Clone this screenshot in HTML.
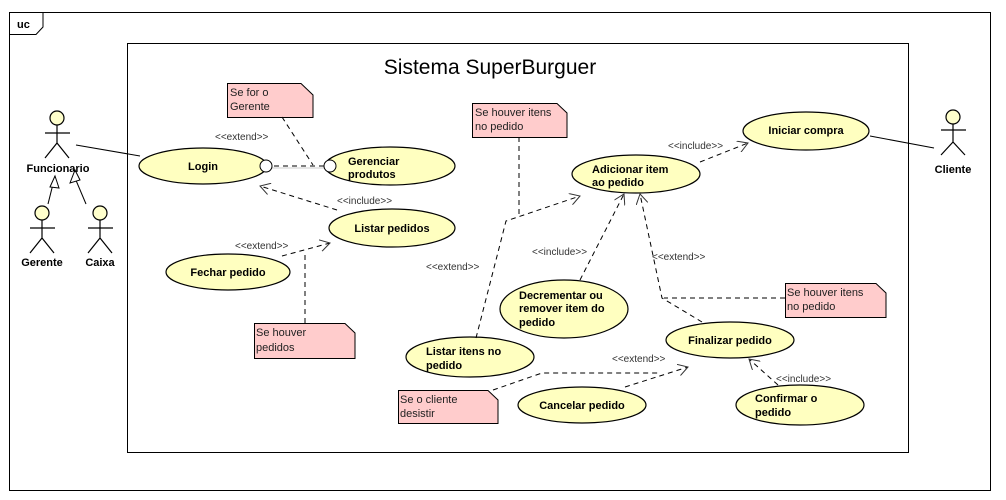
<!DOCTYPE html><html><head><style>body{margin:0;background:#fff}svg{display:block}text{font-family:"Liberation Sans",sans-serif}</style></head><body>
<svg width="1006" height="500" xmlns="http://www.w3.org/2000/svg">
<defs><marker id="a" markerWidth="12" markerHeight="12" refX="10" refY="6" orient="auto" markerUnits="userSpaceOnUse"><path d="M0,0 L10,6 L0,12" fill="none" stroke="#333" stroke-width="1"/></marker></defs>
<rect x="9.5" y="12.5" width="981" height="478" fill="#fff" stroke="#000"/>
<path d="M9.5,34.5 H36 L43,27 V12.5" fill="none" stroke="#000"/>
<text x="17" y="28" font-size="11" font-weight="bold">uc</text>
<rect x="127.5" y="43.5" width="781" height="409" fill="#fff" stroke="#000"/>
<text x="490" y="74" font-size="21" text-anchor="middle">Sistema SuperBurguer</text>
<g stroke="#000" fill="none">
<line x1="76" y1="145" x2="140" y2="156"/>
<line x1="870" y1="136" x2="934" y2="148"/>
<line x1="48" y1="204" x2="55" y2="176"/><line x1="86" y1="204" x2="75" y2="178"/>
</g>
<path d="M50,187 L55,176 L59,188 Z M70,183 L75,170 L80,180 Z" fill="#fff" stroke="#000"/>
<g fill="#ffffcc" stroke="#000" stroke-width="1.2">
<g id="act"></g>
<circle cx="57" cy="118" r="7"/><circle cx="42" cy="213" r="7"/><circle cx="100" cy="213" r="7"/><circle cx="953" cy="117" r="7"/>
</g>
<g stroke="#000" fill="none" stroke-width="1.2">
<path d="M57,125V143M45,133H70M45,158L57,143L69,158"/>
<path d="M42,220V238M30,228H55M30,253L42,238L54,253"/>
<path d="M100,220V238M88,228H113M88,253L100,238L112,253"/>
<path d="M953,124V142M941,130H966M941,155L953,142L965,155"/>
</g>
<g font-size="11" font-weight="bold" text-anchor="middle">
<text x="58" y="172">Funcionario</text><text x="42" y="266">Gerente</text><text x="100" y="266">Caixa</text><text x="953" y="173">Cliente</text>
</g>
<g fill="#ffffc0" stroke="#000" stroke-width="1.2">
<ellipse cx="203" cy="166" rx="64" ry="18"/>
<ellipse cx="390" cy="166" rx="65" ry="19"/>
<ellipse cx="392" cy="228" rx="63" ry="19"/>
<ellipse cx="228" cy="272" rx="62" ry="18"/>
<ellipse cx="806" cy="131" rx="63" ry="19"/>
<ellipse cx="636" cy="174" rx="64" ry="19"/>
<ellipse cx="564" cy="309" rx="64" ry="29"/>
<ellipse cx="470" cy="357" rx="64" ry="20"/>
<ellipse cx="730" cy="340" rx="64" ry="18"/>
<ellipse cx="582" cy="405" rx="64" ry="18"/>
<ellipse cx="800" cy="405" rx="64" ry="20"/>
</g>
<g font-size="11" font-weight="bold">
<text x="203" y="170" text-anchor="middle">Login</text>
<text x="348" y="165">Gerenciar</text><text x="348" y="178">produtos</text>
<text x="392" y="232" text-anchor="middle">Listar pedidos</text>
<text x="228" y="276" text-anchor="middle">Fechar pedido</text>
<text x="806" y="134" text-anchor="middle">Iniciar compra</text>
<text x="592" y="173">Adicionar item</text><text x="592" y="186">ao pedido</text>
<text x="519" y="299">Decrementar ou</text><text x="519" y="312">remover item do</text><text x="519" y="326">pedido</text>
<text x="426" y="355">Listar itens no</text><text x="426" y="369">pedido</text>
<text x="730" y="344" text-anchor="middle">Finalizar pedido</text>
<text x="582" y="409" text-anchor="middle">Cancelar pedido</text>
<text x="755" y="402">Confirmar o</text><text x="755" y="416">pedido</text>
</g>
<g fill="#ffcccc" stroke="#000">
<path d="M227.5,83.5H301L313,95V117.5H227.5Z"/>
<path d="M472.5,103.5H557L567,113V137.5H472.5Z"/>
<path d="M785.5,283.5H876L886,293V317.5H785.5Z"/>
<path d="M254.5,323.5H345L355,333V358.5H254.5Z"/>
<path d="M398.5,390.5H488L498,400V423.5H398.5Z"/>
</g>
<g font-size="11" fill="#222">
<text x="230" y="96">Se for o</text><text x="230" y="110">Gerente</text>
<text x="475" y="116">Se houver itens</text><text x="475" y="130">no pedido</text>
<text x="787" y="296">Se houver itens</text><text x="787" y="310">no pedido</text>
<text x="256" y="336">Se houver</text><text x="256" y="351">pedidos</text>
<text x="400" y="403">Se o cliente</text><text x="400" y="417">desistir</text>
</g>
<g stroke="#000" fill="none" stroke-dasharray="5,4">
<line x1="324" y1="166" x2="271" y2="166"/>
<line x1="282" y1="117" x2="313" y2="165"/>
<line x1="337" y1="210" x2="260" y2="186" marker-end="url(#a)"/>
<line x1="282" y1="256" x2="330" y2="243" marker-end="url(#a)"/>
<line x1="305" y1="323" x2="305" y2="252"/>
<polyline points="476,338 506,221 580,196" marker-end="url(#a)"/>
<line x1="519" y1="137" x2="519" y2="215"/>
<line x1="580" y1="280" x2="624" y2="194" marker-end="url(#a)"/>
<polyline points="702,322 662,298 640,194" marker-end="url(#a)"/>
<line x1="785" y1="298" x2="664" y2="298"/>
<line x1="700" y1="162" x2="748" y2="143" marker-end="url(#a)"/>
<line x1="625" y1="387" x2="688" y2="367" marker-end="url(#a)"/>
<polyline points="493,390 542,373 660,373"/>
<line x1="778" y1="385" x2="749" y2="359" marker-end="url(#a)"/>
</g>
<line x1="271" y1="168" x2="324" y2="168" stroke="#ccc"/>
<circle cx="266" cy="166" r="6" fill="#fff" stroke="#000"/>
<circle cx="330" cy="166" r="6" fill="#fff" stroke="#000"/>
<g font-size="10" fill="#333">
<text x="215" y="140">&lt;&lt;extend&gt;&gt;</text>
<text x="337" y="204">&lt;&lt;include&gt;&gt;</text>
<text x="235" y="249">&lt;&lt;extend&gt;&gt;</text>
<text x="426" y="270">&lt;&lt;extend&gt;&gt;</text>
<text x="532" y="255">&lt;&lt;include&gt;&gt;</text>
<text x="652" y="260">&lt;&lt;extend&gt;&gt;</text>
<text x="668" y="149">&lt;&lt;include&gt;&gt;</text>
<text x="612" y="362">&lt;&lt;extend&gt;&gt;</text>
<text x="776" y="382">&lt;&lt;include&gt;&gt;</text>
</g>
</svg></body></html>
